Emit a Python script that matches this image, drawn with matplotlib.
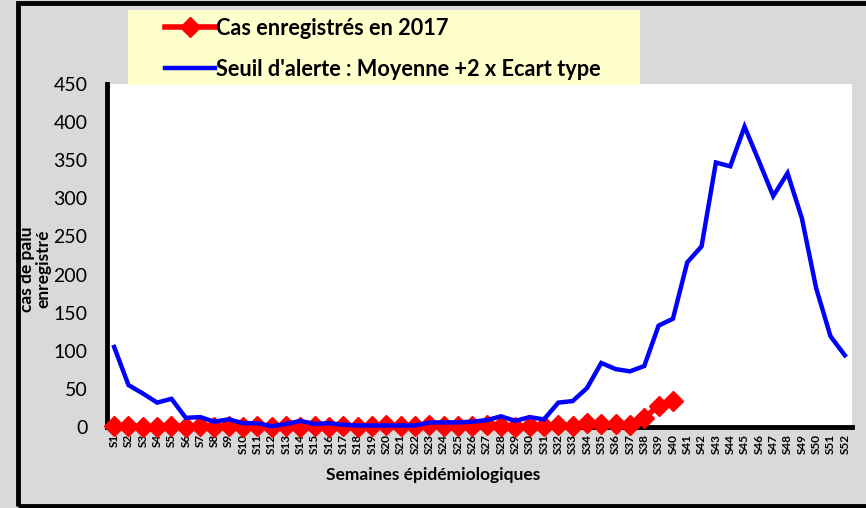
import matplotlib.pyplot as plt
from matplotlib.patches import Rectangle

weeks = [f'S{i}' for i in range(1, 53)]

# cas enregistres 2017 (S1..S40)
cas_2017 = [1, 1, 0, 0, 1, 0, 1, 0, 1, 0,
            1, 0, 1, 0, 1, 0, 1, 0, 1, 2,
            1, 1, 2, 1, 1, 1, 2, 1, 0, 1,
            1, 3, 1, 5, 4, 4, 3, 12, 28, 34]

# seuil d'alerte : moyenne + 2 x ecart type
seuil = [105, 55, 44, 32, 37, 12, 13, 7, 10, 5,
         5, 1, 4, 8, 4, 5, 3, 2, 2, 2,
         2, 2, 6, 6, 6, 7, 9, 14, 8, 13,
         10, 32, 34, 51, 84, 76, 73, 80, 133, 142,
         216, 237, 347, 342, 394, 349, 303, 333, 274, 182,
         119, 94]

plt.rcParams['font.family'] = ['Lato', 'DejaVu Sans']

W, H = 866, 508
fig = plt.figure(figsize=(W / 100, H / 100), dpi=100, facecolor='#d9d9d9')

# cadre noir autour du graphique
fig.add_artist(Rectangle((17.5 / W, 2 / H), 1.0, 503.5 / H, transform=fig.transFigure,
                         fill=False, edgecolor='black', linewidth=3.5))

ax = fig.add_axes([107 / W, (H - 427) / H, (852 - 107) / W, (427 - 84) / H])
ax.set_facecolor('white')

x = list(range(len(weeks)))
ax.plot(x[:len(cas_2017)], cas_2017, color='red', linewidth=4, marker='D',
        markersize=10.5, clip_on=False, zorder=3, label='Cas enregistrés en 2017')
ax.plot(x, seuil, color='blue', linewidth=3.2, solid_joinstyle='miter',
        clip_on=False, zorder=4, label="Seuil d'alerte : Moyenne +2 x Ecart type")

ax.set_xlim(-0.5, len(weeks) - 0.5)
ax.set_ylim(0, 450)
ax.set_yticks(range(0, 451, 50))
ax.set_xticks(x)
ax.set_xticklabels(weeks, rotation=90, fontsize=8.5, fontweight='bold')
ax.tick_params(axis='y', labelsize=14, length=0, pad=14)
ax.tick_params(axis='x', length=0, pad=5)

for side in ['top', 'right']:
    ax.spines[side].set_visible(False)
ax.spines['left'].set_linewidth(3.5)
ax.spines['bottom'].set_linewidth(3.5)
ax.spines['bottom'].set_zorder(2)

fig.text(433 / W, 1 - 475 / H, 'Semaines épidémiologiques', fontsize=12.5,
         fontweight='bold', ha='center', va='center')
fig.text(35 / W, 1 - 269 / H, 'cas de palu\nenregistré', rotation=90, fontsize=12.5,
         fontweight='bold', ha='center', va='center', linespacing=1.0)

# legende sur fond jaune pale
fig.add_artist(Rectangle((128 / W, 1 - 85 / H), (640 - 128) / W, 75 / H,
                         transform=fig.transFigure, facecolor='#ffffcc',
                         edgecolor='none', zorder=9))
leg = fig.legend(loc='upper left', bbox_to_anchor=(165 / W, 1 - 18 / H),
                 frameon=False, handlelength=2.3, handletextpad=0.05,
                 labelspacing=0.9, borderpad=0, borderaxespad=0,
                 prop={'weight': 'bold', 'size': 15.7})
leg.set_zorder(10)

fig.savefig('out.png', dpi=100, facecolor=fig.get_facecolor())
